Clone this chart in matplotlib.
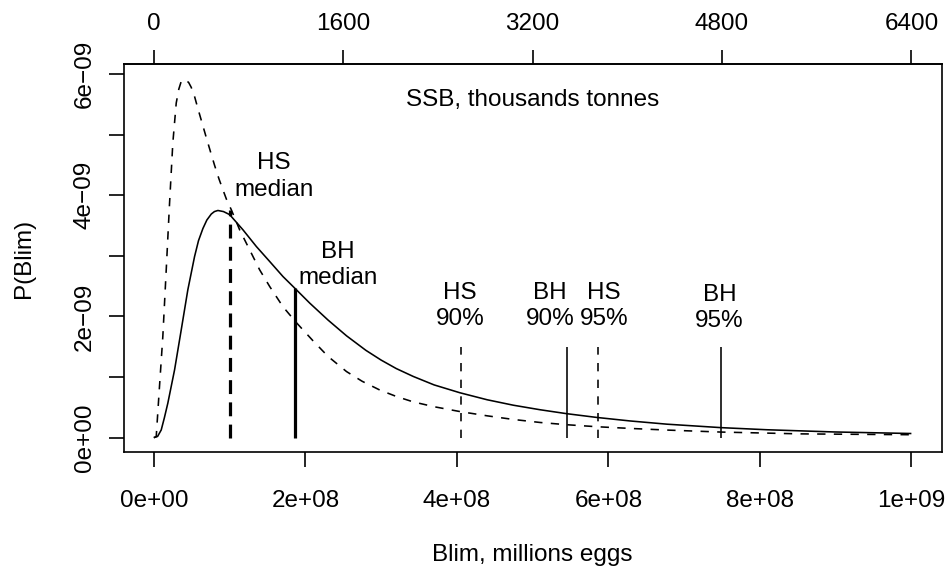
import matplotlib
matplotlib.use("Agg")
import matplotlib.pyplot as plt

plt.rcParams["font.family"] = ["Liberation Sans", "DejaVu Sans"]
plt.rcParams["lines.scale_dashes"] = False

EGGS = 1e8      # Blim values below are in units of 1e8 million eggs
DENS = 1e-9     # densities below are in units of 1e-9
SSB_PER_EGG = 6.4e-6  # thousand tonnes of SSB per million eggs

# Posterior density of Blim, Beverton-Holt fit (solid)
blim_bh = [0.0, 0.05, 0.098, 0.14, 0.185, 0.274, 0.362, 0.449, 0.538, 0.59,
           0.648, 0.70, 0.759, 0.80, 0.846, 0.92, 1.001, 1.177, 1.354, 1.530,
           1.705, 1.860, 2.058, 2.30, 2.544, 2.80, 3.00, 3.20, 3.424, 3.70,
           4.042, 4.40, 4.746, 5.10, 5.452, 5.849, 6.289, 6.774, 7.488, 8.096,
           8.973, 10.0]
dens_bh = [0.0, 0.02, 0.127, 0.33, 0.568, 1.118, 1.778, 2.438, 2.988, 3.25,
           3.45, 3.59, 3.69, 3.73, 3.748, 3.73, 3.68, 3.429, 3.153, 2.906,
           2.658, 2.467, 2.22, 1.94, 1.68, 1.44, 1.28, 1.14, 1.01, 0.87,
           0.74, 0.625, 0.535, 0.46, 0.395, 0.333, 0.275, 0.222, 0.165, 0.13,
           0.094, 0.068]

# Posterior density of Blim, hockey-stick fit (dashed)
blim_hs = [0.0, 0.032, 0.075, 0.119, 0.164, 0.208, 0.251, 0.296, 0.33, 0.362,
           0.39, 0.42, 0.46, 0.494, 0.54, 0.582, 0.64, 0.693, 0.75, 0.803,
           0.86, 0.912, 0.96, 1.023, 1.133, 1.265, 1.397, 1.530, 1.705, 1.880,
           2.100, 2.300, 2.544, 2.75, 2.984, 3.20, 3.424, 3.70, 4.042, 4.40,
           4.746, 5.10, 5.452, 5.849, 6.289, 6.774, 7.488, 8.537, 10.0]
dens_hs = [0.0, 0.017, 0.842, 1.667, 2.769, 3.870, 4.861, 5.521, 5.75, 5.878,
           5.91, 5.90, 5.86, 5.78, 5.62, 5.43, 5.18, 4.95, 4.71, 4.49,
           4.27, 4.09, 3.93, 3.76, 3.429, 3.099, 2.769, 2.493, 2.16, 1.90,
           1.60, 1.34, 1.09, 0.93, 0.785, 0.68, 0.59, 0.51, 0.43, 0.36,
           0.30, 0.25, 0.213, 0.18, 0.152, 0.125, 0.092, 0.062, 0.048]

# Medians: (Blim, density at the median)
median_hs = (1.00, 3.75)
median_bh = (1.86, 2.467)

# Upper percentiles of Blim
pct_names = ["HS\n90%", "BH\n90%", "HS\n95%", "BH\n95%"]
pct_blim = [4.055, 5.452, 5.862, 7.488]
pct_model = ["HS", "BH", "HS", "BH"]
pct_height = 1.5

x_ticks = [0, 2, 4, 6, 8, 10]
x_ticklabels = ["0e+00", "2e+08", "4e+08", "6e+08", "8e+08", "1e+09"]
y_ticks = [0, 1, 2, 3, 4, 5, 6]
y_ticklabels = ["0e+00", "", "2e\u221209", "", "4e\u221209", "", "6e\u221209"]
ssb_ticks = [0, 1600, 3200, 4800, 6400]

W, H = 946, 572
fig = plt.figure(figsize=(W / 100, H / 100), dpi=100)
left, right, top, bottom = 123.5, 941.7, 64.3, 451.7
ax = fig.add_axes([left / W, 1 - bottom / H, (right - left) / W, (bottom - top) / H])

FS = 17.5
LW = 1.15
DASH = (0, (6, 6))

ax.plot([b * EGGS for b in blim_bh], [d * DENS for d in dens_bh],
        color="black", lw=LW, solid_capstyle="butt", solid_joinstyle="round")
ax.plot([b * EGGS for b in blim_hs], [d * DENS for d in dens_hs],
        color="black", lw=LW, linestyle=DASH)

# median lines
ax.plot([median_hs[0] * EGGS] * 2, [0, median_hs[1] * DENS], color="black",
        lw=2.3, linestyle=(0, (10, 6)))
ax.plot([median_bh[0] * EGGS] * 2, [0, median_bh[1] * DENS], color="black",
        lw=2.3, solid_capstyle="butt")

# percentile lines
for b, m in zip(pct_blim, pct_model):
    ax.plot([b * EGGS] * 2, [0, pct_height * DENS], color="black", lw=LW,
            linestyle=DASH if m == "HS" else "-", solid_capstyle="butt")

LS = 1.25
ax.text(1.585 * EGGS, 4.31 * DENS, "HS\nmedian", ha="center", va="center",
        fontsize=FS, linespacing=LS)
ax.text(2.43 * EGGS, 2.844 * DENS, "BH\nmedian", ha="center", va="center",
        fontsize=FS, linespacing=LS)
pct_text_x = [4.04, 5.23, 5.945, 7.466]
pct_text_y = [2.178, 2.178, 2.178, 2.133]
for name, tx, ty in zip(pct_names, pct_text_x, pct_text_y):
    ax.text(tx * EGGS, ty * DENS, name, ha="center", va="center",
            fontsize=FS, linespacing=LS)
ax.text(5.0 * EGGS, 5.575 * DENS, "SSB, thousands tonnes", ha="center",
        va="center", fontsize=FS)

ax.set_xlim(-0.04e9, 1.04e9)
ax.set_ylim(-0.232e-9, 6.16e-9)
ax.set_xticks([t * EGGS for t in x_ticks])
ax.set_xticklabels(x_ticklabels)
ax.set_yticks([t * DENS for t in y_ticks])
ax.set_yticklabels(y_ticklabels, rotation=90, va="center")

for s in ax.spines.values():
    s.set_linewidth(1.2)
ax.tick_params(axis="x", direction="out", length=11, width=1.2,
               labelsize=FS, pad=16.5)
ax.tick_params(axis="y", direction="out", length=11, width=1.2,
               labelsize=FS, pad=9)

sec = ax.secondary_xaxis("top", functions=(lambda b: b * SSB_PER_EGG,
                                           lambda s: s / SSB_PER_EGG))
sec.set_xticks(ssb_ticks)
sec.set_xticklabels([str(t) for t in ssb_ticks])
sec.tick_params(direction="out", length=10, width=1.2, labelsize=FS, pad=11)
sec.spines["top"].set_linewidth(1.2)

fig.text(532.6 / W, 1 - 561 / H, "Blim, millions eggs", ha="center",
         va="baseline", fontsize=FS)
fig.text(24 / W, 1 - 258 / H, "P(Blim)", ha="center", va="center",
         rotation=90, fontsize=FS)

fig.savefig("out.png", dpi=100)
